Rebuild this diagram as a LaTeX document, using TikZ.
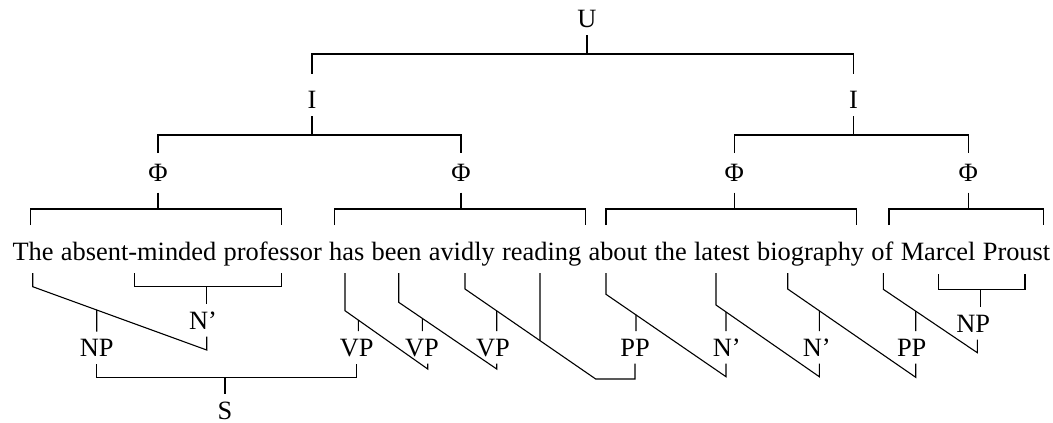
\documentclass[tikz,border=0pt]{standalone}
\usepackage{fontspec}
\setmainfont{Liberation Serif}
\newcommand\upstem[4]{%
  \coordinate (#1ua) at ([xshift=#2]#1.north);
  \coordinate (#1ub) at ([xshift=#2]#1.south);
  \draw (#1ua) -- (intersection of #1ua--#1ub and #3--#4);}
\begin{document}
\begin{tikzpicture}[x=1pt,y=-1pt,line width=1.1pt,
  txt/.style={font=\fontsize{26.4}{30}\selectfont},
  lab/.style={txt, inner xsep=1pt, inner ysep=0pt, outer ysep=7.5pt,
    text height=17.5pt, text depth=0pt, anchor=base},
  phi/.style={lab, outer ysep=11pt}]
\useasboundingbox (0,0) rectangle (1053,423);

% prosodic tree
\node[lab] (U) at (587,27.5) {U};
\node[lab] (I1) at (312,108.5) {I};
\node[lab] (I2) at (853.5,108.5) {I};
\node[phi] (F1) at (158,181.5) {Φ};
\node[phi] (F2) at (461,181.5) {Φ};
\node[phi] (F3) at (734.3,181.5) {Φ};
\node[phi] (F4) at (968.3,181.5) {Φ};

\coordinate (Ub) at ([yshift=-19pt]U.south);
\draw (U.south) -- (Ub);
\draw ([yshift=10pt]I1.north) |- (Ub) -| ([yshift=10pt]I2.north);

\coordinate (I1b) at ([yshift=-19pt]I1.south);
\coordinate (I2b) at ([yshift=-19pt]I2.south);
\draw (I1.south) -- (I1b);
\draw (I2.south) -- (I2b);
\draw (F1.north) |- (I1b) -| (F2.north);
\draw (F3.north) |- (I2b) -| (F4.north);

% sentence
\node[txt, inner sep=0pt, text height=35pt, text depth=13pt, anchor=base west]
  (sent) at (12,260) {\spaceskip=7.3pt The absent-minded professor has been avidly reading about the latest biography of Marcel Proust};

% phi brackets
\coordinate (p1a) at (30.7,225);  \coordinate (p1b) at (281.7,225);
\coordinate (p2a) at (334.3,225); \coordinate (p2b) at (585.3,225);
\coordinate (p3a) at (606,225);   \coordinate (p3b) at (856.7,225);
\coordinate (p4a) at (889,225);   \coordinate (p4b) at (1043.3,225);
\foreach \i in {1,2,3,4}{
  \coordinate (F\i b) at ([yshift=-16.5pt]F\i.south);
  \draw (F\i.south) -- (F\i b);
  \draw (p\i a) |- (F\i b) -| (p\i b);
}

% syntactic labels
\node[lab] (NPl) at (96.7,356.5) {NP};
\node[lab] (Nl) at (203,329) {N'};
\node[lab] (VP1) at (356.7,356) {VP};
\node[lab] (VP2) at (422,356) {VP};
\node[lab] (VP3) at (493,356) {VP};
\node[lab] (PP1) at (635,356) {PP};
\node[lab] (N1) at (726.7,356) {N'};
\node[lab] (N2) at (816.7,356) {N'};
\node[lab] (PP2) at (911.7,356) {PP};
\node[lab] (NPr) at (973.3,332) {NP};
\node[lab] (S) at (225,419) {S};

% word attachment points
\coordinate (wThe) at (32.7,273);   \coordinate (kThe) at (32.7,286.7);   \coordinate (eThe) at (206.7,350);
\coordinate (wHas) at (345,273);    \coordinate (kHas) at (345,310.7);    \coordinate (eHas) at (427.7,369);
\coordinate (wBeen) at (398.7,273); \coordinate (kBeen) at (398.7,302.3); \coordinate (eBeen) at (496.7,369);
\coordinate (wAv) at (465,273);     \coordinate (kAv) at (465,289);       \coordinate (eAv) at (595.7,379);
\coordinate (wRead) at (540,273);   \coordinate (kRead) at (540,360);
\coordinate (wAb) at (606,273);     \coordinate (kAb) at (606,294.3);     \coordinate (eAb) at (726,376.7);
\coordinate (wLat) at (716,273);    \coordinate (kLat) at (716,305);      \coordinate (eLat) at (819.3,376.7);
\coordinate (wBio) at (787.7,273);  \coordinate (kBio) at (787.7,289);    \coordinate (eBio) at (915.7,377.3);
\coordinate (wOf) at (883.3,273);   \coordinate (kOf) at (883.3,289.3);   \coordinate (eOf) at (977.3,352.7);
\coordinate (wAbs) at (134.3,273);  \coordinate (wProf) at (281.7,273);   \coordinate (Nlb) at (206.7,286.7);
\coordinate (wMar) at (938.3,274);  \coordinate (wPro) at (1025,274);     \coordinate (NPrb) at (980.7,289.3);

% angled branches
\draw (wThe) -- (kThe) -- (eThe) -- (eThe |- Nl.south);
\draw (wHas) -- (kHas) -- (eHas) -- (eHas |- VP2.south);
\draw (wBeen) -- (kBeen) -- (eBeen) -- (eBeen |- VP3.south);
\draw (wAv) -- (kAv) -- (eAv) -| (PP1.south);
\draw (wRead) -- (intersection of wRead--kRead and kAv--eAv);
\draw (wAb) -- (kAb) -- (eAb) -- (eAb |- N1.south);
\draw (wLat) -- (kLat) -- (eLat) -- (eLat |- N2.south);
\draw (wBio) -- (kBio) -- (eBio) -- (eBio |- PP2.south);
\draw (wOf) -- (kOf) -- (eOf) -- (eOf |- NPr.south);

% square brackets
\draw (wAbs) |- (Nlb) -| (wProf);
\draw (Nlb) -- (Nlb |- Nl.north);
\draw (wMar) |- (NPrb) -| (wPro);
\draw (NPrb) -- (NPrb |- NPr.north);

% stems from labels up to branches
\upstem{NPl}{0pt}{kThe}{eThe}
\upstem{VP1}{1.6pt}{kHas}{eHas}
\upstem{VP2}{0.3pt}{kBeen}{eBeen}
\upstem{VP3}{3.7pt}{kAv}{eAv}
\upstem{PP1}{1pt}{kAb}{eAb}
\upstem{N1}{-0.7pt}{kLat}{eLat}
\upstem{N2}{2.6pt}{kBio}{eBio}
\upstem{PP2}{4pt}{kOf}{eOf}

% S
\coordinate (Sb) at ([yshift=16.7pt]S.north);
\draw (NPl.south) |- (Sb) -| (VP1.south);
\draw (Sb) -- (S.north);
\end{tikzpicture}
\end{document}
